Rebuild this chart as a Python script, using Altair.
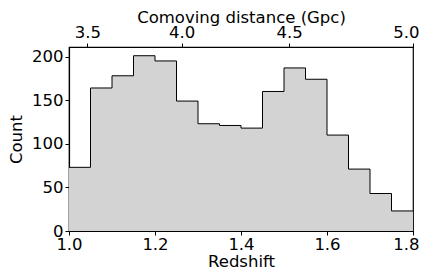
import altair as alt
import pandas as pd

bin_left = [1.00, 1.05, 1.10, 1.15, 1.20, 1.25, 1.30, 1.35,
            1.40, 1.45, 1.50, 1.55, 1.60, 1.65, 1.70, 1.75]
bin_right_end = 1.80
counts = [73, 164, 178, 201, 195, 149, 123, 121,
          118, 160, 187, 174, 110, 71, 43, 23]

x_ticks = [1.0, 1.2, 1.4, 1.6, 1.8]
y_ticks = [0, 50, 100, 150, 200]

# top axis: comoving distance labels at their redshift positions
top_tick_z = [1.0425, 1.2618, 1.5119, 1.8]
top_tick_labels = ["3.5", "4.0", "4.5", "5.0"]

df = pd.DataFrame({"z": bin_left + [bin_right_end], "count": counts + [counts[-1]]})

# build label expression for top axis
expr = "''"
for zv, lab in reversed(list(zip(top_tick_z, top_tick_labels))):
    expr = f"abs(datum.value - {zv}) < 0.001 ? '{lab}' : ({expr})"

FONT = "DejaVu Sans"
FS = 16.5
xscale = alt.Scale(domain=[1.0, 1.8], nice=False, zero=False)
yscale = alt.Scale(domain=[0, 211], nice=False)

edge_test = "datum.value >= 1.79"
edge_align = {"condition": {"test": edge_test, "value": "right"}, "value": "center"}
edge_offset = {"condition": {"test": edge_test, "value": 6}, "value": 0}

area = alt.Chart(df).mark_area(interpolate="step-after", color="#d3d3d3", opacity=1).encode(
    x=alt.X("z:Q", scale=xscale,
            axis=alt.Axis(values=x_ticks, format=".1f", title="Redshift", orient="bottom",
                          labelPadding=1, titlePadding=1,
                          labelAlign=edge_align, labelOffset=edge_offset)),
    y=alt.Y("count:Q", scale=yscale,
            axis=alt.Axis(values=y_ticks, title="Count", labelPadding=2, titlePadding=7)),
)

line = alt.Chart(df).mark_line(interpolate="step-after", color="black", strokeWidth=1).encode(
    x=alt.X("z:Q", scale=xscale,
            axis=alt.Axis(values=top_tick_z, labelExpr=expr, title="Comoving distance (Gpc)",
                          orient="top", labelPadding=3, titlePadding=-1,
                          labelAlign=edge_align, labelOffset=edge_offset)),
    y=alt.Y("count:Q", scale=yscale),
)

chart = alt.layer(area, line).resolve_axis(x="independent").properties(
    width=344, height=184,
    autosize=alt.AutoSizeParams(type="none"),
    padding={"left": 61, "top": 39, "right": 7, "bottom": 38},
).configure_view(stroke="black", strokeWidth=1.2).configure_axis(
    grid=False,
    labelFont=FONT, titleFont=FONT,
    labelFontSize=FS, titleFontSize=FS,
    labelColor="black", titleColor="black",
    titleFontWeight="normal",
    domainColor="black", domainWidth=1.2, tickColor="black", tickWidth=1,
    tickSize=4,
    labelFlush=False, labelOverlap=False,
)

chart.save("out.html", embed_options={"renderer": "svg", "actions": False})
